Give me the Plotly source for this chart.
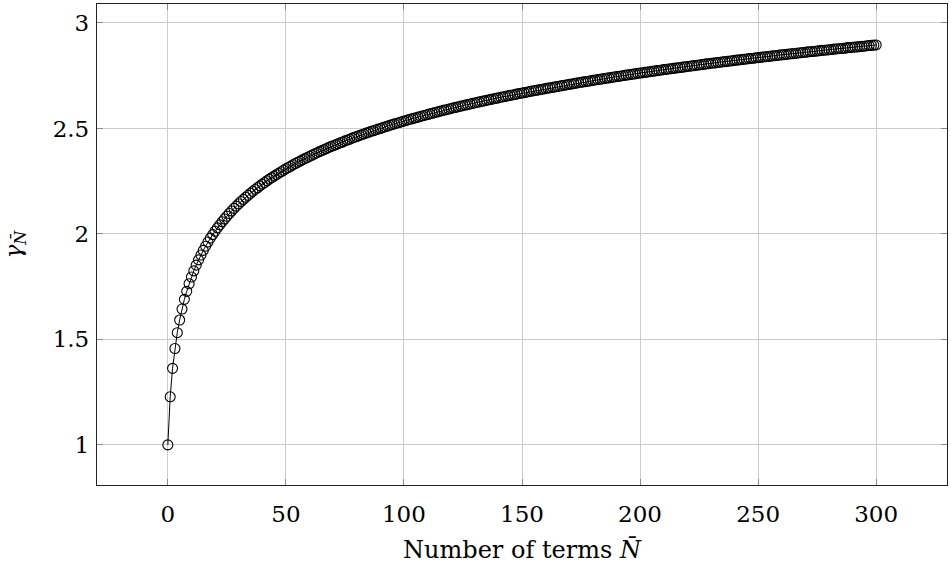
import plotly.graph_objects as go

# Number of retained terms N̄ (every integer from 0 to 300)
n_terms = list(range(0, 301))

# γ_N̄ for each N̄, rows of ten values
gamma = [
    1.000, 1.228, 1.363, 1.457, 1.532, 1.592, 1.644, 1.690, 1.728, 1.764,
    1.796, 1.825, 1.852, 1.877, 1.900, 1.922, 1.942, 1.962, 1.980, 1.997,
    2.013, 2.029, 2.043, 2.058, 2.071, 2.084, 2.097, 2.109, 2.121, 2.132,
    2.143, 2.154, 2.164, 2.174, 2.183, 2.193, 2.202, 2.211, 2.219, 2.228,
    2.236, 2.244, 2.252, 2.260, 2.267, 2.274, 2.281, 2.288, 2.295, 2.302,
    2.309, 2.315, 2.321, 2.328, 2.334, 2.340, 2.345, 2.351, 2.357, 2.362,
    2.368, 2.373, 2.379, 2.384, 2.389, 2.394, 2.399, 2.404, 2.409, 2.414,
    2.418, 2.423, 2.427, 2.432, 2.436, 2.441, 2.445, 2.449, 2.454, 2.458,
    2.462, 2.466, 2.470, 2.474, 2.478, 2.482, 2.486, 2.489, 2.493, 2.497,
    2.500, 2.504, 2.508, 2.511, 2.515, 2.518, 2.522, 2.525, 2.528, 2.532,
    2.535, 2.538, 2.542, 2.545, 2.548, 2.551, 2.554, 2.557, 2.560, 2.563,
    2.566, 2.569, 2.572, 2.575, 2.578, 2.581, 2.584, 2.587, 2.589, 2.592,
    2.595, 2.598, 2.600, 2.603, 2.606, 2.608, 2.611, 2.613, 2.616, 2.619,
    2.621, 2.624, 2.626, 2.629, 2.631, 2.633, 2.636, 2.638, 2.641, 2.643,
    2.645, 2.648, 2.650, 2.652, 2.655, 2.657, 2.659, 2.661, 2.664, 2.666,
    2.668, 2.670, 2.672, 2.675, 2.677, 2.679, 2.681, 2.683, 2.685, 2.687,
    2.689, 2.691, 2.693, 2.695, 2.697, 2.699, 2.701, 2.703, 2.705, 2.707,
    2.709, 2.711, 2.713, 2.715, 2.717, 2.719, 2.721, 2.722, 2.724, 2.726,
    2.728, 2.730, 2.732, 2.733, 2.735, 2.737, 2.739, 2.740, 2.742, 2.744,
    2.746, 2.747, 2.749, 2.751, 2.753, 2.754, 2.756, 2.758, 2.759, 2.761,
    2.763, 2.764, 2.766, 2.767, 2.769, 2.771, 2.772, 2.774, 2.775, 2.777,
    2.779, 2.780, 2.782, 2.783, 2.785, 2.786, 2.788, 2.789, 2.791, 2.792,
    2.794, 2.795, 2.797, 2.798, 2.800, 2.801, 2.803, 2.804, 2.806, 2.807,
    2.809, 2.810, 2.811, 2.813, 2.814, 2.816, 2.817, 2.818, 2.820, 2.821,
    2.823, 2.824, 2.825, 2.827, 2.828, 2.829, 2.831, 2.832, 2.833, 2.835,
    2.836, 2.837, 2.839, 2.840, 2.841, 2.842, 2.844, 2.845, 2.846, 2.848,
    2.849, 2.850, 2.851, 2.853, 2.854, 2.855, 2.856, 2.858, 2.859, 2.860,
    2.861, 2.863, 2.864, 2.865, 2.866, 2.867, 2.869, 2.870, 2.871, 2.872,
    2.873, 2.874, 2.876, 2.877, 2.878, 2.879, 2.880, 2.881, 2.883, 2.884,
    2.885, 2.886, 2.887, 2.888, 2.889, 2.890, 2.892, 2.893, 2.894, 2.895,
    2.896,
]

x_ticks = [0, 50, 100, 150, 200, 250, 300]
y_ticks = [1, 1.5, 2, 2.5, 3]
y_tick_labels = ["1", "1.5", "2", "2.5", "3"]

FONT = "DejaVu Serif"
GRID = "#cccccc"
TICK = "#8a8a8a"

fig = go.Figure()
fig.add_trace(go.Scatter(
    x=n_terms,
    y=gamma,
    mode="lines+markers",
    line=dict(color="black", width=1),
    marker=dict(symbol="circle-open", size=10, color="black",
                line=dict(color="black", width=1.1)),
    showlegend=False,
))

axis_common = dict(
    showgrid=True, gridcolor=GRID, gridwidth=1,
    zeroline=False,
    showline=True, linecolor="#222222", linewidth=1.3, mirror="allticks",
    ticks="inside", ticklen=6, tickcolor=TICK, tickwidth=1,
    tickfont=dict(family=FONT, size=23, color="black"),
)

fig.update_xaxes(
    range=[-30, 330], tickvals=x_ticks, ticktext=[str(v) for v in x_ticks],
    ticklabelstandoff=8,
    title=dict(text="Number of terms <i>N\u0304</i>",
               font=dict(family=FONT, size=24, color="black"), standoff=15),
    **axis_common,
)
fig.update_yaxes(
    range=[0.81, 3.09], tickvals=y_ticks, ticktext=y_tick_labels,
    ticklabelstandoff=2,
    title=dict(text="<i>γ</i><sub><i>N\u0304</i></sub>",
               font=dict(family=FONT, size=23, color="black"), standoff=28),
    **axis_common,
)

fig.update_layout(
    width=951, height=568,
    margin=dict(l=97, r=4, t=4, b=83),
    paper_bgcolor="white", plot_bgcolor="white",
)

fig.write_html("out.html")
